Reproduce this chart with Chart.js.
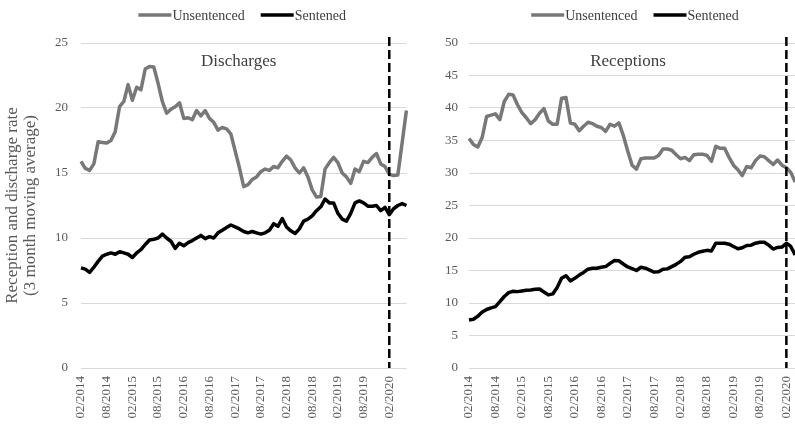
<!DOCTYPE html>
<html>
<head>
<meta charset="utf-8">
<script src="https://cdn.jsdelivr.net/npm/chart.js@4/dist/chart.umd.min.js"></script>
<style>
  html, body { margin: 0; padding: 0; background: #fff; overflow: hidden; }
  #wrap { position: relative; width: 795px; height: 425px; overflow: hidden; background: #fff; }
  #dis { position: absolute; left: 0; top: 0; }
  #rec { position: absolute; left: 400px; top: 0; }
</style>
</head>
<body>
<div id="wrap">
  <canvas id="dis" width="430" height="425"></canvas>
  <canvas id="rec" width="430" height="425"></canvas>
</div>
<script>
// Monthly categories, Feb 2014 to Jun 2020
const months = [
  '02/2014','03/2014','04/2014','05/2014','06/2014','07/2014','08/2014','09/2014','10/2014','11/2014','12/2014',
  '01/2015','02/2015','03/2015','04/2015','05/2015','06/2015','07/2015','08/2015','09/2015','10/2015','11/2015','12/2015',
  '01/2016','02/2016','03/2016','04/2016','05/2016','06/2016','07/2016','08/2016','09/2016','10/2016','11/2016','12/2016',
  '01/2017','02/2017','03/2017','04/2017','05/2017','06/2017','07/2017','08/2017','09/2017','10/2017','11/2017','12/2017',
  '01/2018','02/2018','03/2018','04/2018','05/2018','06/2018','07/2018','08/2018','09/2018','10/2018','11/2018','12/2018',
  '01/2019','02/2019','03/2019','04/2019','05/2019','06/2019','07/2019','08/2019','09/2019','10/2019','11/2019','12/2019',
  '01/2020','02/2020','03/2020','04/2020','05/2020','06/2020'
];

// Discharge rate, 3 month moving average
const dischargesUnsentenced = [
  15.9, 15.35, 15.2, 15.7, 17.4, 17.35, 17.3, 17.5, 18.2, 20.1, 20.5,
  21.8, 20.6, 21.6, 21.4, 23.0, 23.2, 23.15, 21.9, 20.5, 19.6, 19.9, 20.1,
  20.4, 19.2, 19.25, 19.1, 19.8, 19.4, 19.8, 19.2, 18.9, 18.3, 18.5, 18.4,
  18.0, 16.7, 15.4, 13.95, 14.1, 14.5, 14.7, 15.1, 15.3, 15.2, 15.5, 15.4,
  15.9, 16.3, 16.0, 15.4, 15.0, 15.4, 14.7, 13.7, 13.15, 13.2, 15.3, 15.8,
  16.2, 15.8, 15.0, 14.7, 14.2, 15.3, 15.1, 15.9, 15.8, 16.2, 16.5, 15.7,
  15.5, 14.9, 14.8, 14.85, 17.3, 19.8
];
const dischargesSentenced = [
  7.7, 7.6, 7.35, 7.75, 8.2, 8.6, 8.75, 8.85, 8.75, 8.95, 8.85,
  8.75, 8.5, 8.85, 9.1, 9.5, 9.85, 9.9, 10.0, 10.3, 10.0, 9.75, 9.2,
  9.6, 9.4, 9.65, 9.8, 10.0, 10.2, 9.95, 10.1, 10.0, 10.4, 10.6, 10.8,
  11.0, 10.85, 10.7, 10.5, 10.4, 10.5, 10.4, 10.3, 10.4, 10.6, 11.1, 10.9,
  11.5, 10.85, 10.55, 10.35, 10.7, 11.3, 11.45, 11.7, 12.1, 12.4, 13.0, 12.7,
  12.7, 11.9, 11.45, 11.3, 11.9, 12.7, 12.85, 12.7, 12.45, 12.45, 12.5, 12.1,
  12.35, 11.8, 12.25, 12.5, 12.65, 12.5
];

// Reception rate, 3 month moving average
const receptionsUnsentenced = [
  35.3, 34.4, 34.0, 35.5, 38.7, 38.9, 39.1, 38.2, 41.0, 42.1, 42.0,
  40.5, 39.3, 38.5, 37.6, 38.2, 39.2, 39.9, 38.0, 37.5, 37.5, 41.5, 41.6,
  37.7, 37.5, 36.5, 37.2, 37.8, 37.6, 37.2, 37.0, 36.4, 37.5, 37.2, 37.7,
  35.8, 33.4, 31.2, 30.6, 32.2, 32.3, 32.3, 32.3, 32.7, 33.7, 33.7, 33.5,
  32.8, 32.2, 32.4, 31.9, 32.8, 32.9, 32.9, 32.7, 31.8, 34.1, 33.8, 33.8,
  32.4, 31.2, 30.5, 29.6, 31.0, 30.8, 31.9, 32.6, 32.5, 31.9, 31.3, 32.0,
  31.2, 30.8, 30.1, 28.6, null, null
];
const receptionsSentenced = [
  7.4, 7.5, 7.95, 8.6, 9.0, 9.25, 9.45, 10.2, 11.0, 11.6, 11.8,
  11.75, 11.85, 11.95, 12.0, 12.1, 12.15, 11.7, 11.25, 11.4, 12.4, 13.8, 14.2,
  13.4, 13.8, 14.3, 14.7, 15.2, 15.35, 15.35, 15.5, 15.6, 16.1, 16.55, 16.5,
  16.0, 15.55, 15.3, 15.0, 15.5, 15.35, 15.05, 14.75, 14.8, 15.2, 15.25, 15.6,
  15.95, 16.4, 17.05, 17.1, 17.5, 17.8, 17.95, 18.1, 18.0, 19.2, 19.2, 19.2,
  19.05, 18.7, 18.35, 18.5, 18.85, 18.9, 19.2, 19.35, 19.35, 18.9, 18.3, 18.55,
  18.6, 19.2, 18.7, 17.4, null, null
];

const seriesNames = ['Unsentenced', 'Sentened'];
const cutoffMonth = '02/2020';
const labelEvery = 6;

const SERIF = "'Liberation Serif', 'Times New Roman', serif";
const TEXT = '#595959';
const GRID = '#d9d9d9';
const GREY_LINE = '#787878';
const BLACK_LINE = '#000000';

Chart.defaults.font.family = SERIF;
Chart.defaults.color = TEXT;

// Panel caption drawn inside the plot area
const panelTitle = {
  id: 'panelTitle',
  afterDraw(chart, args, opts) {
    const { ctx, chartArea } = chart;
    ctx.save();
    ctx.font = `17px ${SERIF}`;
    ctx.fillStyle = opts.color;
    ctx.textAlign = 'center';
    ctx.textBaseline = 'middle';
    ctx.fillText(opts.text, (chartArea.left + chartArea.right) / 2 + opts.dx, chartArea.top + opts.dy);
    ctx.restore();
  }
};

// Legend with a line swatch butting up against its label
const lineLegend = {
  id: 'lineLegend',
  afterDraw(chart, args, opts) {
    const { ctx, chartArea } = chart;
    ctx.save();
    ctx.font = `14px ${SERIF}`;
    const items = chart.data.datasets.map(d => ({
      label: d.label, color: d.borderColor, w: ctx.measureText(d.label).width
    }));
    const total = items.reduce((s, it) => s + opts.swatch + it.w, 0) + opts.gap * (items.length - 1);
    let x = (chartArea.left + chartArea.right) / 2 + opts.dx - total / 2;
    const y = opts.y;
    items.forEach(it => {
      ctx.strokeStyle = it.color;
      ctx.lineWidth = 3.5;
      ctx.lineCap = 'butt';
      ctx.beginPath();
      ctx.moveTo(x, y);
      ctx.lineTo(x + opts.swatch, y);
      ctx.stroke();
      x += opts.swatch;
      ctx.fillStyle = opts.color;
      ctx.textAlign = 'left';
      ctx.textBaseline = 'middle';
      ctx.fillText(it.label, x + 1, y + 1);
      x += it.w + opts.gap;
    });
    ctx.restore();
  }
};

// Dashed vertical marker at the cut-off month
const cutoffLine = {
  id: 'cutoffLine',
  afterDatasetsDraw(chart, args, opts) {
    const { ctx, chartArea, scales } = chart;
    const x = scales.x.getPixelForValue(months.indexOf(opts.month));
    ctx.save();
    ctx.strokeStyle = '#000';
    ctx.lineWidth = 2.5;
    ctx.setLineDash([9, 4]);
    ctx.beginPath();
    ctx.moveTo(x, chartArea.top - opts.overshoot);
    ctx.lineTo(x, chartArea.bottom);
    ctx.stroke();
    ctx.restore();
  }
};

function makePanel(id, cfg) {
  return new Chart(document.getElementById(id), {
    type: 'line',
    data: {
      labels: months,
      datasets: [
        { label: seriesNames[0], data: cfg.unsentenced, borderColor: GREY_LINE, backgroundColor: GREY_LINE,
          borderWidth: 3.5, pointRadius: 0, tension: 0, borderJoinStyle: 'round', spanGaps: false },
        { label: seriesNames[1], data: cfg.sentenced, borderColor: BLACK_LINE, backgroundColor: BLACK_LINE,
          borderWidth: 3.5, pointRadius: 0, tension: 0, borderJoinStyle: 'round', spanGaps: false }
      ]
    },
    options: {
      responsive: false,
      animation: false,
      devicePixelRatio: 1,
      layout: { padding: { top: 43, left: 0, right: cfg.padRight, bottom: 0 } },
      plugins: {
        legend: { display: false },
        tooltip: { enabled: false },
        panelTitle: { text: cfg.title, color: '#404040', dx: cfg.titleDx, dy: 19 },
        lineLegend: { y: 15, dx: -2, swatch: 33, gap: 17, color: '#404040' },
        cutoffLine: { month: cutoffMonth, overshoot: 6 }
      },
      scales: {
        x: {
          type: 'category',
          offset: false,
          grid: { display: false, drawTicks: false },
          border: { display: false },
          ticks: {
            autoSkip: false,
            maxRotation: 90,
            minRotation: 90,
            padding: 8,
            color: TEXT,
            font: { size: 13, family: SERIF },
            callback(value, index) { return index % labelEvery === 0 ? this.getLabelForValue(value) : ''; }
          },
          afterFit(scale) { scale.height = 57; }
        },
        y: {
          min: 0,
          max: cfg.yMax,
          grid: { color: GRID, lineWidth: 1, drawTicks: false },
          border: { display: false },
          ticks: { stepSize: cfg.yStep, padding: cfg.tickPad, color: TEXT, font: { size: 13, family: SERIF } },
          title: cfg.axisTitle ? {
            display: true,
            text: cfg.axisTitle,
            color: TEXT,
            font: { size: 17, family: SERIF, lineHeight: 1.05 },
            padding: { top: 4, bottom: 0 }
          } : { display: false },
          afterFit(scale) { scale.width = cfg.axisWidth; }
        }
      }
    },
    plugins: [panelTitle, lineLegend, cutoffLine]
  });
}

makePanel('dis', {
  title: 'Discharges',
  titleDx: -5,
  unsentenced: dischargesUnsentenced,
  sentenced: dischargesSentenced,
  yMax: 25, yStep: 5,
  axisTitle: ['Reception and discharge rate', '(3 month moving average)'],
  axisWidth: 81, tickPad: 13, padRight: 13
});

makePanel('rec', {
  title: 'Receptions',
  titleDx: -8.5,
  unsentenced: receptionsUnsentenced,
  sentenced: receptionsSentenced,
  yMax: 50, yStep: 5,
  axisTitle: null,
  axisWidth: 69, tickPad: 11, padRight: 26
});
</script>
</body>
</html>
